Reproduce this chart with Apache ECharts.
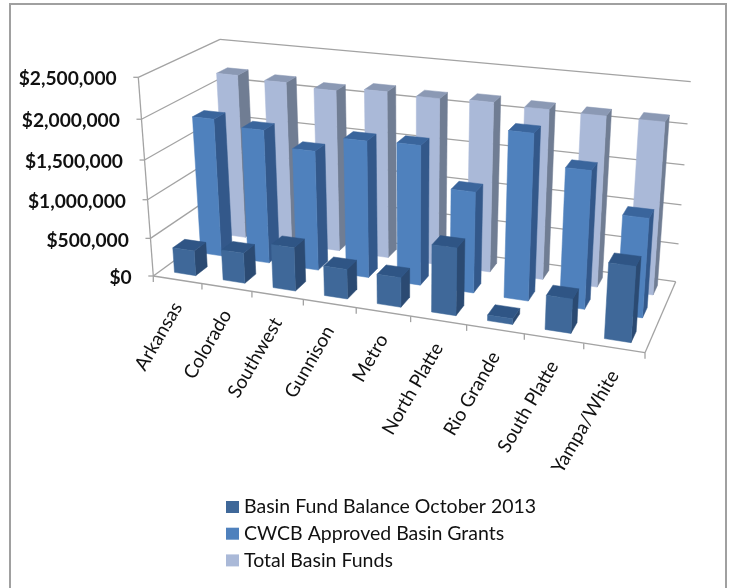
<!DOCTYPE html>
<html><head><meta charset="utf-8">
<style>html,body{margin:0;padding:0;background:#fff}#c{width:729px;height:588px}</style>
<script src="https://cdn.jsdelivr.net/npm/echarts@6/dist/echarts.min.js"></script>
</head><body><div id="c"></div>
<script>
const categories = ['Arkansas','Colorado','Southwest','Gunnison','Metro','North Platte','Rio Grande','South Platte','Yampa/White'];
const seriesNames = ['Basin Fund Balance October 2013','CWCB Approved Basin Grants','Total Basin Funds'];
const balance = [330000,395000,560000,380000,375000,840000,70000,420000,910000];
const grants  = [1810000,1740000,1550000,1750000,1770000,1280000,2060000,1700000,1220000];
const total   = [2190000,2160000,2120000,2170000,2150000,2170000,2150000,2140000,2140000];
const yTicks = [0,500000,1000000,1500000,2000000,2500000];
const yTickLabels = ['$0','$500,000','$1,000,000','$1,500,000','$2,000,000','$2,500,000'];

// Projection frame of the 3D box: floor and ceiling quads (FL, FR, BR, BL)
const floorQuad = [[153.3,276],[645,352.7],[675.7,281.7],[229.5,220.4]];
const topQuad   = [[138.3,77.3],[660.1,130.9],[690.7,81.7],[220,39.3]];
function homography(q){
  const [x0,y0]=q[0],[x1,y1]=q[1],[x2,y2]=q[2],[x3,y3]=q[3];
  const dx1=x1-x2,dx2=x3-x2,sx=x0-x1+x2-x3,dy1=y1-y2,dy2=y3-y2,sy=y0-y1+y2-y3;
  const den=dx1*dy2-dx2*dy1,g=(sx*dy2-dx2*sy)/den,h=(dx1*sy-sx*dy1)/den;
  const a=x1-x0+g*x1,b=x3-x0+h*x3,d=y1-y0+g*y1,e=y3-y0+h*y3;
  return (u,v)=>{const w=g*u+h*v+1;return [(a*u+b*v+x0)/w,(d*u+e*v+y0)/w];};
}
const Hfloor=homography(floorQuad),Htop=homography(topQuad);
const PERSP=1.07;
function P(u,v,w){
  const wp=w/(PERSP-(PERSP-1)*w);
  const a=Hfloor(u,v),b=Htop(u,v);
  return [a[0]+(b[0]-a[0])*wp,a[1]+(b[1]-a[1])*wp];
}
const ROWS=3, BAR=0.44;
const GRID='#a3a3a3';
const palette=[
  {front:'#3f6899',side:'#2b4a72',top:'#2f5585'},
  {front:'#4f81bd',side:'#33588a',top:'#3a659c'},
  {front:'#aab9d8',side:'#707d93',top:'#8b99b4'}
];
function frac(api,params,cat,val){
  const p=api.coord([cat,val]),cs=params.coordSys;
  return {u:(p[0]-cs.x)/cs.width,w:(cs.y+cs.height-p[1])/cs.height};
}
function poly(points,color,z2){
  return {type:'polygon',shape:{points},z2,style:{fill:color,stroke:color,lineWidth:0.5}};
}
function barRender(row){
  return function(params,api){
    const i=api.value(0),val=api.value(1);
    const f=frac(api,params,i,val),band=api.size([1,0])[0]/params.coordSys.width;
    const bw=band*BAR,u0=f.u-bw/2,u1=f.u+bw/2;
    const v0=(row+0.5-BAR/2)/ROWS,v1=(row+0.5+BAR/2)/ROWS,w=f.w;
    const c=palette[row],z=20-i*2;
    return {type:'group',children:[
      poly([P(u1,v0,0),P(u1,v1,0),P(u1,v1,w),P(u1,v0,w)],c.side,z),
      poly([P(u0,v0,w),P(u1,v0,w),P(u1,v1,w),P(u0,v1,w)],c.top,z),
      poly([P(u0,v0,0),P(u1,v0,0),P(u1,v0,w),P(u0,v0,w)],c.front,z+1)
    ]};
  };
}
function line(a,b,width){
  return {type:'line',shape:{x1:a[0],y1:a[1],x2:b[0],y2:b[1]},style:{stroke:GRID,lineWidth:width||1.3,fill:null}};
}
function wallRender(params,api){
  const f=frac(api,params,0,api.value(0)),w=f.w;
  const kids=[line(P(0,0,w),P(0,1,w)),line(P(0,1,w),P(1,1,w))];
  const a=P(0,0,w);
  kids.push(line([a[0]-5,a[1]],a));
  kids.push({type:'text',x:a[0]-21.6,y:a[1]+2,style:{text:yTickLabels[params.dataIndex],textAlign:'right',textVerticalAlign:'middle',font:'bold 19.2px Lato',fill:'#111'}});
  if(params.dataIndex===0){
    kids.push(line(P(0,0,0),P(1,0,0)),line(P(1,0,0),P(1,1,0)),line(P(0,0,0),P(0,0,1)));
    const n=categories.length;
    for(let k=0;k<=n;k++){const t=P(k/n,0,0);kids.push(line(t,[t[0],t[1]+6]));}
  }
  return {type:'group',children:kids};
}
function catRender(params,api){
  const f=frac(api,params,api.value(0),0);
  const p=P(f.u,0,0);
  return {type:'text',x:p[0],y:p[1]+24,rotation:Math.PI/3,style:{text:categories[params.dataIndex],textAlign:'right',textVerticalAlign:'middle',font:'19px Lato',fill:'#111'}};
}
const arrays=[balance,grants,total];
const chart=echarts.init(document.getElementById('c'));
chart.setOption({
  animation:false,
  backgroundColor:'#fff',
  grid:{left:150,right:80,top:40,bottom:310},
  xAxis:{type:'category',data:categories,show:false},
  yAxis:{type:'value',min:0,max:2500000,interval:500000,show:false},
  legend:{orient:'vertical',left:226,top:497,padding:0,itemWidth:13,itemHeight:12,itemGap:6.7,icon:'rect',
    data:seriesNames,selectedMode:false,
    textStyle:{fontFamily:'Lato',fontSize:19.5,color:'#111',padding:[0,0,0,0]}},
  graphic:[{type:'polyline',silent:true,z:0,shape:{points:[[10,600],[10,4],[726,4],[726,600]]},style:{stroke:'#a0a0a0',lineWidth:2,fill:null}}],
  series:[
    {type:'custom',id:'walls',silent:true,z:2,clip:false,data:yTicks.map(v=>[v]),encode:{y:0},renderItem:wallRender},
    ...[2,1,0].map(r=>({type:'custom',name:seriesNames[r],silent:true,z:5-r+2,clip:false,
      itemStyle:{color:palette[r].front},
      data:arrays[r].map((v,i)=>[i,v]),encode:{x:0,y:1},renderItem:barRender(r)})),
    {type:'custom',id:'cats',silent:true,z:9,clip:false,data:categories.map((c,i)=>[i]),encode:{x:0},renderItem:catRender}
  ]
});
</script></body></html>
